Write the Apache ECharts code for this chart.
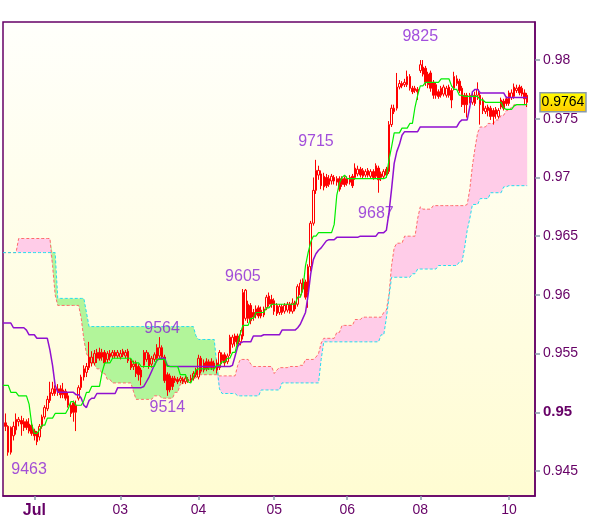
<!DOCTYPE html>
<html><head><meta charset="utf-8">
<script src="https://cdn.jsdelivr.net/npm/echarts@6/dist/echarts.min.js"></script>
<style>html,body{margin:0;padding:0;background:#fff}#c{width:600px;height:519px}</style>
</head><body><div id="c"></div>
<script>
const N_SLOTS = 205;
const tickIdx = [12,45,75,104,132,160,194];
const tickText = ['Jul','03','04','05','06','08','10'];
const yTicks = [0.945,0.95,0.955,0.96,0.965,0.97,0.975,0.98];

const open = [null,
.9491,.9488,.9487,.9480,.9485,.9492,.9493,.9492,.9492,
.9490,.9489,.9484,.9482,.9479,.9488,.9496,.9503,.9510,.9516,
.9520,.9517,.9520,.9515,.9518,.9514,.9506,.9508,.9500,.9512,
.9521,.9530,.9534,.9538,.9542,.9542,.9546,.9551,.9547,.9551,
.9545,.9547,.9548,.9551,.9548,.9547,.9549,.9548,.9552,.9544,
.9539,.9542,.9539,.9536,.9540,.9545,.9549,.9541,.9545,.9546,
.9548,.9555,.9547,.9532,.9531,.9529,.9527,.9528,.9527,.9528,
.9526,.9528,.9527,.9529,.9532,.9530,.9546,.9536,.9543,.9538,
.9543,.9537,.9542,.9538,.9544,.9549,.9543,.9550,.9558,.9560,
.9565,.9560,.9565,.9580,.9592,.9591,.9585,.9583,.9589,.9582,
.9588,.9589,.9592,.9596,.9595,.9591,.9585,.9590,.9586,.9587,
.9592,.9586,.9593,.9592,.9600,.9605,.9611,.9602,.9624,.9661,
.9689,.9702,.9703,.9701,.9700,.9694,.9697,.9700,.9696,.9699,
.9694,.9699,.9695,.9700,.9701,.9700,.9703,.9707,.9701,.9702,
.9706,.9701,.9705,.9701,.9708,.9700,.9701,.9707,.9705,.9745,
.9756,.9759,.9777,.9780,.9779,.9779,.9786,.9776,.9774,.9775,
.9791,.9794,.9793,.9788,.9789,.9781,.9779,.9773,.9770,.9771,
.9770,.9777,.9774,.9776,.9780,.9782,.9776,.9770,.9770,.9766,
.9764,.9770,.9770,.9770,.9766,.9756,.9757,.9759,.9757,.9754,
.9752,.9760,.9765,.9767,.9763,.9768,.9769,.9774,.9777,.9776,
.9772,.9770];

const close = [null,
.9488,.9466,.9466,.9488,.9494,.9494,.9490,.9487,.9487,
.9484,.9482,.9480,.9475,.9488,.9496,.9504,.9511,.9517,.9520,
.9516,.9520,.9515,.9519,.9512,.9506,.9499,.9500,.9506,.9521,
.9530,.9537,.9539,.9547,.9547,.9550,.9551,.9546,.9551,.9542,
.9550,.9550,.9551,.9548,.9551,.9550,.9552,.9551,.9544,.9538,
.9541,.9533,.9532,.9530,.9551,.9551,.9539,.9546,.9549,.9555,
.9555,.9547,.9527,.9519,.9519,.9522,.9529,.9526,.9529,.9526,
.9529,.9527,.9529,.9533,.9536,.9546,.9535,.9542,.9537,.9543,
.9538,.9542,.9536,.9551,.9549,.9542,.9548,.9564,.9564,.9565,
.9558,.9566,.9602,.9604,.9580,.9578,.9581,.9588,.9582,.9587,
.9583,.9598,.9599,.9592,.9586,.9584,.9590,.9585,.9591,.9592,
.9586,.9593,.9588,.9607,.9610,.9611,.9598,.9624,.9661,.9689,
.9706,.9706,.9693,.9692,.9693,.9699,.9701,.9697,.9699,.9690,
.9699,.9694,.9699,.9696,.9693,.9708,.9707,.9702,.9706,.9705,
.9702,.9705,.9700,.9710,.9698,.9703,.9705,.9702,.9745,.9759,
.9759,.9777,.9780,.9778,.9781,.9786,.9776,.9773,.9776,.9773,
.9796,.9788,.9781,.9779,.9776,.9770,.9770,.9769,.9776,.9777,
.9776,.9770,.9766,.9786,.9784,.9774,.9762,.9762,.9762,.9770,
.9770,.9763,.9775,.9762,.9757,.9759,.9760,.9752,.9752,.9758,
.9757,.9766,.9759,.9763,.9772,.9772,.9777,.9776,.9772,.9771,
.9767,.9764];

const low = [null,
.9484,.9463,.9464,.9476,.9481,.9488,.9480,.9484,.9485,
.9482,.9480,.9476,.9472,.9476,.9486,.9494,.9501,.9508,.9514,
.9514,.9514,.9512,.9512,.9510,.9504,.9496,.9492,.9484,.9510,
.9519,.9527,.9530,.9536,.9539,.9540,.9542,.9544,.9544,.9540,
.9542,.9544,.9546,.9546,.9546,.9545,.9547,.9546,.9542,.9536,
.9536,.9530,.9527,.9523,.9538,.9543,.9537,.9538,.9543,.9544,
.9546,.9545,.9525,.9514,.9517,.9519,.9525,.9524,.9525,.9524,
.9524,.9525,.9525,.9527,.9530,.9528,.9533,.9534,.9535,.9536,
.9536,.9535,.9533,.9536,.9541,.9539,.9541,.9548,.9555,.9556,
.9555,.9557,.9562,.9578,.9576,.9575,.9578,.9580,.9580,.9580,
.9581,.9587,.9590,.9589,.9583,.9582,.9583,.9583,.9584,.9585,
.9584,.9584,.9586,.9590,.9598,.9602,.9596,.9589,.9620,.9659,
.9686,.9698,.9690,.9689,.9691,.9692,.9694,.9694,.9693,.9688,
.9692,.9692,.9693,.9694,.9691,.9698,.9701,.9700,.9699,.9700,
.9700,.9699,.9698,.9699,.9687,.9697,.9699,.9700,.9703,.9743,
.9754,.9757,.9775,.9776,.9777,.9777,.9774,.9771,.9772,.9766,
.9789,.9786,.9778,.9776,.9773,.9767,.9767,.9767,.9768,.9769,
.9768,.9768,.9759,.9774,.9778,.9772,.9760,.9755,.9751,.9763,
.9762,.9761,.9766,.9745,.9754,.9754,.9752,.9749,.9745,.9750,
.9750,.9758,.9757,.9761,.9761,.9766,.9767,.9772,.9770,.9769,
.9762,.9760];

const high = [null,
.9499,.9489,.9488,.9492,.9499,.9496,.9497,.9495,.9494,
.9495,.9492,.9486,.9484,.9490,.9498,.9506,.9514,.9526,.9526,
.9523,.9524,.9523,.9525,.9520,.9517,.9508,.9510,.9510,.9523,
.9532,.9540,.9542,.9560,.9552,.9553,.9554,.9555,.9554,.9553,
.9552,.9553,.9553,.9553,.9553,.9553,.9554,.9553,.9554,.9546,
.9544,.9544,.9541,.9538,.9553,.9553,.9551,.9548,.9551,.9558,
.9564,.9557,.9549,.9534,.9533,.9531,.9531,.9530,.9531,.9530,
.9531,.9530,.9532,.9535,.9538,.9549,.9548,.9545,.9546,.9545,
.9546,.9544,.9545,.9553,.9551,.9551,.9550,.9566,.9566,.9567,
.9567,.9570,.9605,.9605,.9595,.9593,.9588,.9591,.9591,.9590,
.9590,.9600,.9602,.9600,.9597,.9593,.9592,.9592,.9593,.9594,
.9594,.9597,.9595,.9609,.9613,.9614,.9613,.9626,.9663,.9700,
.9715,.9710,.9706,.9704,.9703,.9702,.9703,.9702,.9701,.9701,
.9701,.9701,.9701,.9702,.9703,.9712,.9710,.9709,.9708,.9707,
.9708,.9707,.9707,.9712,.9710,.9705,.9707,.9709,.9748,.9762,
.9762,.9789,.9783,.9782,.9784,.9791,.9788,.9778,.9778,.9777,
.9800,.9800,.9795,.9790,.9791,.9783,.9781,.9775,.9778,.9779,
.9778,.9779,.9776,.9790,.9787,.9784,.9778,.9772,.9772,.9772,
.9772,.9773,.9781,.9772,.9768,.9761,.9762,.9761,.9759,.9760,
.9759,.9768,.9767,.9769,.9774,.9775,.9780,.9779,.9779,.9778,
.9775,.9772];

const tenkan = [
.9523,.9523,.9523,.9517,.9517,.9517,.9514,.9514,.9514,.9514,
.9507,.9490,.9482,.9482,.9485,.9489,.9489,.9495,.9495,.9495,
.9499,.9499,.9499,.9499,.9499,.9503,.9509,.9509,.9506,.9506,
.9506,.9510,.9517,.9517,.9522,.9522,.9522,.9522,.9534,.9542,
.9542,.9542,.9546,.9546,.9546,.9546,.9546,.9546,.9546,.9546,
.9542,.9542,.9542,.9539,.9539,.9539,.9539,.9539,.9539,.9545,
.9545,.9545,.9545,.9539,.9539,.9539,.9539,.9539,.9532,.9532,
.9532,.9526,.9525,.9530,.9536,.9537,.9537,.9537,.9537,.9537,
.9537,.9537,.9540,.9540,.9543,.9543,.9546,.9546,.9551,.9551,
.9560,.9567,.9574,.9574,.9574,.9580,.9580,.9585,.9585,.9585,
.9585,.9589,.9589,.9592,.9592,.9592,.9592,.9592,.9592,.9592,
.9592,.9592,.9592,.9598,.9598,.9605,.9625,.9636,.9645,.9650,
.9650,.9653,.9653,.9653,.9653,.9653,.9653,.9660,.9685,.9695,
.9700,.9702,.9699,.9699,.9699,.9699,.9699,.9699,.9699,.9699,
.9699,.9699,.9699,.9699,.9699,.9699,.9699,.9700,.9715,.9726,
.9738,.9738,.9738,.9742,.9742,.9742,.9746,.9746,.9760,.9770,
.9778,.9778,.9781,.9781,.9781,.9781,.9781,.9781,.9784,.9784,
.9784,.9784,.9778,.9775,.9775,.9770,.9770,.9769,.9769,.9769,
.9769,.9769,.9769,.9766,.9766,.9764,.9764,.9764,.9764,.9764,
.9764,.9764,.9759,.9758,.9758,.9758,.9761,.9762,.9762,.9762,
.9762,.9762];

const kijun = [
.9576,.9576,.9576,.9576,.9572,.9572,.9572,.9572,.9572,.9570,
.9566,.9566,.9566,.9563,.9563,.9563,.9563,.9563,.9553,.9540,
.9523,.9517,.9517,.9517,.9517,.9517,.9517,.9517,.9515,.9515,
.9512,.9506,.9504,.9510,.9512,.9512,.9516,.9516,.9516,.9516,
.9516,.9516,.9516,.9516,.9521,.9521,.9521,.9521,.9521,.9521,
.9521,.9521,.9521,.9521,.9522,.9526,.9530,.9535,.9540,.9544,
.9546,.9546,.9546,.9540,.9539,.9539,.9539,.9539,.9539,.9539,
.9539,.9539,.9539,.9539,.9539,.9539,.9539,.9539,.9539,.9539,
.9539,.9539,.9539,.9539,.9539,.9539,.9539,.9539,.9540,.9548,
.9556,.9559,.9560,.9560,.9560,.9560,.9565,.9565,.9565,.9565,
.9566,.9566,.9566,.9566,.9566,.9566,.9566,.9570,.9570,.9570,
.9570,.9570,.9570,.9572,.9575,.9580,.9585,.9600,.9618,.9630,
.9635,.9638,.9640,.9643,.9646,.9647,.9647,.9647,.9649,.9649,
.9649,.9649,.9649,.9649,.9649,.9649,.9649,.9650,.9650,.9650,
.9650,.9650,.9650,.9650,.9653,.9653,.9653,.9655,.9670,.9690,
.9712,.9722,.9728,.9736,.9739,.9739,.9739,.9739,.9739,.9739,
.9743,.9743,.9743,.9743,.9743,.9743,.9743,.9743,.9743,.9743,
.9743,.9743,.9743,.9743,.9743,.9747,.9749,.9749,.9749,.9760,
.9773,.9775,.9775,.9772,.9772,.9772,.9772,.9772,.9772,.9772,
.9772,.9772,.9772,.9768,.9768,.9768,.9768,.9768,.9768,.9768,
.9768,.9768];

const spanA = [
.9636,.9636,.9636,.9636,.9636,.9636,.9648,.9648,.9648,.9648,
.9648,.9648,.9648,.9648,.9648,.9648,.9648,.9648,.9648,.9625,
.9600,.9591,.9591,.9591,.9591,.9591,.9591,.9591,.9591,.9591,
.9580,.9562,.9550,.9546,.9541,.9541,.9537,.9537,.9533,.9533,
.9528,.9528,.9525,.9525,.9525,.9525,.9525,.9525,.9525,.9525,
.9518,.9511,.9511,.9511,.9511,.9511,.9511,.9511,.9514,.9514,
.9514,.9512,.9512,.9512,.9512,.9512,.9517,.9517,.9524,.9524,
.9527,.9527,.9527,.9529,.9529,.9532,.9532,.9532,.9532,.9532,
.9532,.9532,.9532,.9531,.9531,.9531,.9531,.9531,.9531,.9531,
.9540,.9545,.9545,.9545,.9545,.9541,.9539,.9539,.9539,.9539,
.9539,.9539,.9539,.9539,.9533,.9536,.9538,.9538,.9538,.9538,
.9539,.9539,.9539,.9539,.9540,.9540,.9545,.9545,.9545,.9545,
.9547,.9550,.9559,.9563,.9563,.9563,.9563,.9563,.9568,.9568,
.9574,.9574,.9574,.9574,.9574,.9579,.9579,.9579,.9581,.9581,
.9581,.9581,.9581,.9581,.9581,.9581,.9585,.9587,.9600,.9625,
.9640,.9644,.9644,.9644,.9650,.9650,.9650,.9650,.9650,.9665,
.9675,.9673,.9673,.9673,.9673,.9676,.9676,.9676,.9676,.9676,
.9676,.9676,.9676,.9676,.9676,.9676,.9676,.9676,.9677,.9690,
.9710,.9725,.9738,.9743,.9743,.9743,.9746,.9746,.9746,.9749,
.9749,.9753,.9753,.9757,.9757,.9760,.9762,.9762,.9762,.9762,
.9762,.9762];

const spanB = [
.9636,.9636,.9636,.9636,.9636,.9636,.9636,.9636,.9636,.9636,
.9636,.9636,.9636,.9636,.9636,.9636,.9636,.9636,.9636,.9636,
.9636,.9597,.9597,.9597,.9597,.9597,.9597,.9597,.9597,.9597,
.9597,.9597,.9585,.9573,.9573,.9573,.9573,.9573,.9573,.9573,
.9573,.9573,.9573,.9573,.9573,.9573,.9573,.9573,.9573,.9573,
.9573,.9573,.9573,.9573,.9573,.9573,.9573,.9573,.9573,.9573,
.9573,.9573,.9573,.9573,.9573,.9573,.9573,.9573,.9573,.9573,
.9573,.9573,.9573,.9573,.9565,.9562,.9562,.9562,.9562,.9562,
.9562,.9562,.9540,.9520,.9516,.9516,.9516,.9516,.9516,.9516,
.9514,.9514,.9514,.9514,.9514,.9514,.9514,.9514,.9514,.9519,
.9519,.9519,.9519,.9519,.9519,.9519,.9519,.9525,.9525,.9525,
.9525,.9525,.9525,.9525,.9525,.9525,.9525,.9525,.9525,.9525,
.9525,.9525,.9545,.9560,.9560,.9560,.9560,.9560,.9560,.9560,
.9560,.9560,.9560,.9560,.9560,.9560,.9560,.9560,.9560,.9560,
.9560,.9560,.9560,.9560,.9560,.9566,.9566,.9580,.9598,.9615,
.9615,.9615,.9615,.9615,.9615,.9615,.9615,.9618,.9618,.9622,
.9622,.9622,.9622,.9622,.9622,.9622,.9622,.9625,.9625,.9625,
.9625,.9625,.9625,.9625,.9625,.9628,.9628,.9640,.9655,.9665,
.9677,.9677,.9677,.9682,.9682,.9682,.9682,.9687,.9687,.9687,
.9687,.9687,.9692,.9692,.9693,.9693,.9693,.9693,.9693,.9693,
.9693,.9693];

const annIdx  = [160, 120, 143, 92, 61, 63, 10];
const annVal  = [0.9825, 0.9715, 0.9687, 0.9605, 0.9564, 0.9514, 0.9463];
const annText = ['9825','9715','9687','9605','9564','9514','9463'];
const annDy   = [6, -18, 21, -12, -9, 12, 14];

const categories = Array.from({length: N_SLOTS}, (_, i) => String(i));
const candleData = open.map((o, i) => o == null ? '-' : [o, close[i], low[i], high[i]]);
const cloudBase = spanA.map((a, i) => Math.min(a, spanB[i]));
const pinkH = spanA.map((a, i) => Math.max(a - spanB[i], 0));
const greenH = spanA.map((a, i) => Math.max(spanB[i] - a, 0));

const FONT = 'Liberation Sans';
const chart = echarts.init(document.getElementById('c'), null, {renderer: 'canvas'});
const tickSet = new Set(tickIdx);

chart.setOption({
  animation: false,
  backgroundColor: '#ffffff',
  grid: {
    left: 3, right: 65, top: 22, bottom: 23, containLabel: false, show: true,
    backgroundColor: new echarts.graphic.LinearGradient(0, 0, 0, 1, [
      {offset: 0, color: '#fffffb'}, {offset: 1, color: '#fffcd2'}]),
    borderColor: '#660066', borderWidth: 1.5
  },
  xAxis: {
    type: 'category', data: categories, boundaryGap: false,
    axisLine: {lineStyle: {color: '#660066', width: 1.5}},
    axisTick: {show: true, interval: (i) => tickSet.has(i), length: 4, lineStyle: {color: '#8899aa', width: 1.5}},
    axisLabel: {
      interval: (i) => tickSet.has(i), margin: 7,
      formatter: (v, i) => {
        const k = tickIdx.indexOf(i);
        if (k < 0) return '';
        return k === 0 ? '{b|' + tickText[k] + '}' : '{n|' + tickText[k] + '}';
      },
      rich: {
        b: {fontFamily: FONT, fontSize: 16, fontWeight: 'bold', color: '#660066'},
        n: {fontFamily: FONT, fontSize: 14, color: '#660066'}
      }
    },
    splitLine: {show: false}
  },
  yAxis: {
    type: 'value', position: 'right', min: 0.94287, max: 0.98324, scale: true,
    axisLine: {show: true, lineStyle: {color: '#660066', width: 1.5}},
    axisTick: {show: true, customValues: yTicks, length: 5, lineStyle: {color: '#8899aa', width: 1.5}},
    axisLabel: {
      customValues: yTicks, margin: 8,
      formatter: (v) => {
        const s = String(+v.toFixed(3));
        return Math.abs(v - 0.95) < 1e-9 ? '{b|' + s + '}' : '{n|' + s + '}';
      },
      rich: {
        b: {fontFamily: FONT, fontSize: 15, fontWeight: 'bold', color: '#660066'},
        n: {fontFamily: FONT, fontSize: 14, color: '#660066'}
      }
    },
    splitLine: {show: false}
  },
  series: [
    {type: 'line', data: cloudBase, stack: 'cloud', symbol: 'none', silent: true,
      lineStyle: {opacity: 0}, z: 1},
    {type: 'line', data: pinkH, stack: 'cloud', symbol: 'none', silent: true,
      lineStyle: {opacity: 0}, areaStyle: {color: '#ffcce8', opacity: 1}, z: 1},
    {type: 'line', data: greenH, stack: 'cloud', symbol: 'none', silent: true,
      lineStyle: {opacity: 0}, areaStyle: {color: '#b2f59a', opacity: 1}, z: 1},
    {type: 'line', data: spanA, symbol: 'none', silent: true,
      lineStyle: {color: '#ff6a6a', width: 1, type: [3, 2]}, z: 2},
    {type: 'line', data: spanB, symbol: 'none', silent: true,
      lineStyle: {color: '#22ddee', width: 1, type: [3, 2]}, z: 2},
    {type: 'candlestick', data: candleData, barWidth: 2, z: 3,
      itemStyle: {color: 'rgba(255,255,255,0)', color0: '#ff0000', borderColor: '#ff0000', borderColor0: '#ff0000', borderWidth: 1}},
    {type: 'line', data: kijun, symbol: 'none', silent: true,
      lineStyle: {color: '#9010d0', width: 1.5}, z: 4},
    {type: 'line', data: tenkan, symbol: 'none', silent: true,
      lineStyle: {color: '#00ee00', width: 1.2}, z: 4},
    {type: 'scatter', symbolSize: 0, silent: true, z: 5,
      data: annIdx.map((x, k) => ({
        value: [x, annVal[k]],
        label: {show: true, position: 'inside', offset: [0, annDy[k]], formatter: annText[k],
          fontFamily: FONT, fontSize: 16, color: '#8b22d6'}
      }))}
  ]
});

const lastVal = close[close.length - 1];
const py = chart.convertToPixel({yAxisIndex: 0}, lastVal);
chart.setOption({
  graphic: [{
    type: 'group', z: 100,
    children: [
      {type: 'rect', shape: {x: 540, y: py - 9.5, width: 46, height: 19},
        style: {fill: new echarts.graphic.LinearGradient(0, 0, 0, 1, [
          {offset: 0, color: '#ffff00'}, {offset: 1, color: '#ffc800'}]),
          stroke: '#8899aa', lineWidth: 1.5}},
      {type: 'text', x: 563, y: py, style: {text: lastVal.toFixed(4), fill: '#000000',
        font: '14px "Liberation Sans"', textAlign: 'center', textVerticalAlign: 'middle'}}
    ]
  }]
});
</script>
</body></html>
